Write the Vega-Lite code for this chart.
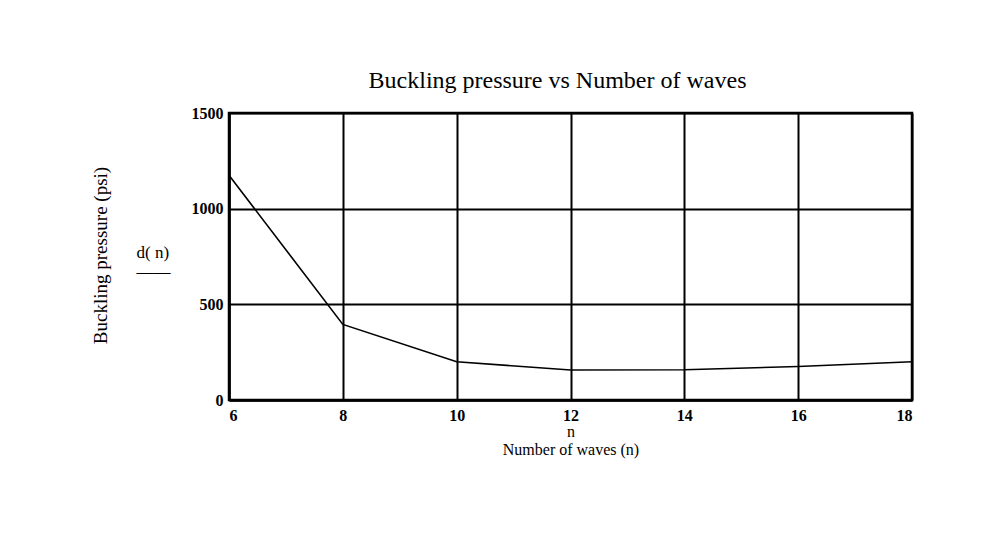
{
  "$schema": "https://vega.github.io/schema/vega-lite/v6.json",
  "width": 683,
  "height": 287,
  "autosize": "none",
  "padding": {"left": 229, "top": 113, "right": 78, "bottom": 154},
  "background": "white",
  "title": {
    "text": "Buckling pressure vs Number of waves",
    "font": "Liberation Serif",
    "fontSize": 24,
    "fontWeight": "normal",
    "color": "black",
    "offset": 12,
    "dx": -13,
    "anchor": "middle"
  },
  "config": {
    "view": {"stroke": "black", "strokeWidth": 2.5},
    "axis": {
      "labelFont": "Liberation Serif",
      "titleFont": "Liberation Serif",
      "labelColor": "black",
      "titleColor": "black",
      "titleFontWeight": "normal",
      "gridColor": "black",
      "gridOpacity": 1,
      "gridWidth": 2,
      "domainColor": "black",
      "domainWidth": 2.5,
      "ticks": false
    }
  },
  "data": {
    "values": [
      {"n": 6, "p": 1175},
      {"n": 8, "p": 395},
      {"n": 10, "p": 200},
      {"n": 12, "p": 157},
      {"n": 14, "p": 158},
      {"n": 16, "p": 175},
      {"n": 18, "p": 200}
    ]
  },
  "layer": [
    {
      "mark": {"type": "line", "color": "black", "strokeWidth": 1.6},
      "encoding": {
        "x": {
          "field": "n",
          "type": "quantitative",
          "scale": {"domain": [6, 18], "nice": false, "zero": false},
          "axis": {
            "values": [6, 8, 10, 12, 14, 16, 18],
            "format": "d",
            "labelFontSize": 16,
            "labelPadding": 7,
            "labelFontWeight": "bold",
            "title": ["n", "Number of waves  (n)"],
            "titleFontSize": 16,
            "titleLineHeight": 18,
            "titlePadding": 0,
            "grid": true
          }
        },
        "y": {
          "field": "p",
          "type": "quantitative",
          "scale": {"domain": [0, 1500], "nice": false},
          "axis": {
            "values": [0, 500, 1000, 1500],
            "format": "d",
            "labelFontSize": 16,
            "labelPadding": 6,
            "labelFontWeight": "bold",
            "title": "Buckling pressure  (psi)",
            "titleFontSize": 19,
            "titleAngle": -90,
            "titleX": -129,
            "titleY": 142,
            "titleBaseline": "middle",
            "titleAlign": "center",
            "grid": true
          }
        }
      }
    },
    {
      "mark": {"type": "line", "opacity": 0},
      "encoding": {
        "x": {"field": "n", "type": "quantitative"},
        "y": {
          "field": "p",
          "type": "quantitative",
          "axis": {
            "orient": "right",
            "labels": false,
            "domain": false,
            "grid": false,
            "title": ["d( n)", "——"],
            "titleFontSize": 17,
            "titleLineHeight": 19,
            "titleAngle": 0,
            "titleAlign": "left",
            "titleBaseline": "top",
            "titleX": -776,
            "titleY": 131
          }
        }
      }
    }
  ],
  "resolve": {"axis": {"y": "independent"}}
}
